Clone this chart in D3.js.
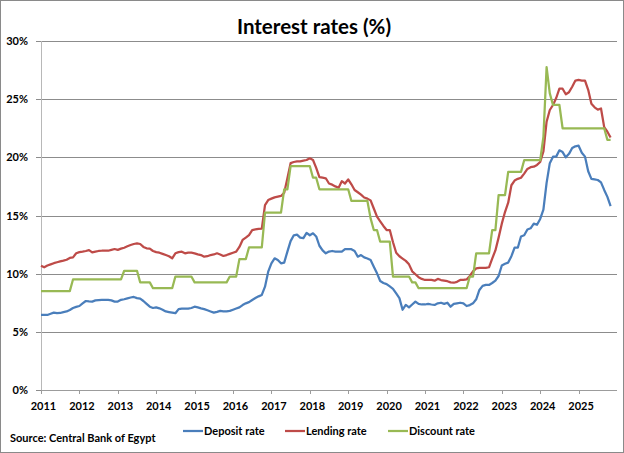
<!DOCTYPE html>
<html>
<head>
<meta charset="utf-8">
<script src="https://cdn.jsdelivr.net/npm/d3@7"></script>
<style>
body { margin: 0; background: #fff; }
text { font-family: Lato, "Liberation Sans", sans-serif; }
</style>
</head>
<body>
<svg id="chart" width="624" height="453"></svg>
<script>
// monthly data, Jan 2011 .. Nov 2025
var years = ["2011","2012","2013","2014","2015","2016","2017","2018","2019","2020","2021","2022","2023","2024","2025"];
var yTicks = [0, 5, 10, 15, 20, 25, 30];

var deposit = [
  6.45, 6.45, 6.45, 6.55, 6.65, 6.6, 6.62, 6.7, 6.75, 6.88, 7.05, 7.15,
  7.22, 7.45, 7.65, 7.62, 7.6, 7.7, 7.72, 7.74, 7.74, 7.74, 7.7, 7.6,
  7.6, 7.75, 7.8, 7.88, 7.95, 8.0, 7.9, 7.85, 7.65, 7.4, 7.16, 7.05,
  7.1, 7.02, 6.9, 6.75, 6.7, 6.65, 6.6, 6.95, 7.0, 7.0, 7.0, 7.05,
  7.16, 7.1, 7.02, 6.95, 6.85, 6.75, 6.65, 6.72, 6.8, 6.76, 6.76, 6.8,
  6.9, 7.0, 7.1, 7.3, 7.45, 7.55, 7.74, 7.9, 8.05, 8.17, 8.88, 10.17,
  10.89, 11.32, 11.17, 10.89, 10.95, 11.9, 12.8, 13.3, 13.35, 13.1, 13.05, 13.5,
  13.3, 13.47, 13.2, 12.4, 12.0, 11.75, 11.9, 11.95, 11.9, 11.9, 11.9, 12.12,
  12.12, 12.1, 11.95, 11.46, 11.6, 11.4, 11.3, 11.17, 10.6, 10.03, 9.37, 9.2,
  9.1, 8.9, 8.7, 8.3, 7.9, 6.9, 7.31, 7.1, 7.35, 7.6, 7.4, 7.35,
  7.35, 7.4, 7.35, 7.31, 7.45, 7.5, 7.4, 7.5, 7.16, 7.4, 7.45, 7.5,
  7.45, 7.22, 7.3, 7.45, 7.8, 8.6, 8.95, 9.03, 9.03, 9.2, 9.4, 9.8,
  10.7, 10.85, 10.95, 11.5, 12.23, 12.23, 13.2, 13.3, 13.8, 13.9, 14.3, 14.2,
  14.7, 15.5, 17.8, 19.5, 20.06, 20.06, 20.6, 20.45, 20.0, 20.3, 20.8, 20.95,
  21.0, 20.4, 20.06, 18.8, 18.15, 18.1, 18.05, 17.85, 17.2, 16.6, 15.8
];

var lending = [
  10.69, 10.55, 10.7, 10.8, 10.9, 10.98, 11.05, 11.12, 11.2, 11.35, 11.4, 11.75,
  11.85, 11.89, 11.95, 12.03, 11.83, 11.9, 11.95, 11.97, 11.97, 11.97, 12.05, 12.12,
  12.05, 12.15, 12.23, 12.35, 12.46, 12.55, 12.6, 12.55, 12.3, 12.18, 12.15, 11.95,
  11.85, 11.8, 11.7, 11.6, 11.5, 11.32, 11.75, 11.85, 11.89, 11.75, 11.8, 11.8,
  11.75, 11.66, 11.6, 11.46, 11.5, 11.6, 11.65, 11.75, 11.65, 11.52, 11.6, 11.7,
  11.8, 11.89, 12.3, 12.9, 13.1, 13.32, 13.75, 13.8, 13.85, 13.87, 15.9, 16.33,
  16.45, 16.56, 16.62, 16.68, 16.95, 18.2, 19.5, 19.6, 19.65, 19.66, 19.72, 19.77,
  19.92, 19.77, 19.1, 18.3, 18.25, 18.2, 17.75, 17.65, 17.5, 17.39, 17.95, 17.75,
  18.11, 17.68, 17.19, 17.0, 16.8, 16.55, 16.45, 16.3, 15.6, 14.9, 14.5, 14.1,
  13.75, 13.75, 12.7, 11.8, 11.5, 11.3, 11.1, 10.8, 10.2, 9.95, 9.7, 9.55,
  9.46, 9.46, 9.46, 9.4, 9.55, 9.45, 9.4, 9.35, 9.25, 9.22, 9.3, 9.46,
  9.46, 9.5, 9.8, 10.2, 10.46, 10.5, 10.5, 10.5, 10.55, 11.3, 12.0, 13.1,
  14.3, 15.3, 16.1, 17.6, 18.0, 18.15, 18.25, 18.6, 19.0, 19.15, 19.2, 19.35,
  19.6, 20.5, 23.06, 24.07, 24.5, 25.1, 25.9, 25.9, 25.42, 25.6, 26.07, 26.6,
  26.65, 26.6, 26.6, 25.8, 24.6, 24.3, 24.1, 24.2, 22.6, 22.2, 21.7
];

var discount = [
  8.5, 8.5, 8.5, 8.5, 8.5, 8.5, 8.5, 8.5, 8.5, 8.5, 9.5, 9.5,
  9.5, 9.5, 9.5, 9.5, 9.5, 9.5, 9.5, 9.5, 9.5, 9.5, 9.5, 9.5,
  9.5, 9.5, 10.25, 10.25, 10.25, 10.25, 10.25, 9.25, 9.25, 9.25, 9.25, 8.75,
  8.75, 8.75, 8.75, 8.75, 8.75, 8.75, 9.75, 9.75, 9.75, 9.75, 9.75, 9.75,
  9.25, 9.25, 9.25, 9.25, 9.25, 9.25, 9.25, 9.25, 9.25, 9.25, 9.25, 9.75,
  9.75, 9.75, 11.25, 11.25, 11.25, 12.25, 12.25, 12.25, 12.25, 12.25, 15.25, 15.25,
  15.25, 15.25, 15.25, 15.25, 17.25, 17.25, 19.25, 19.25, 19.25, 19.25, 19.25, 19.25,
  19.25, 18.25, 18.25, 17.25, 17.25, 17.25, 17.25, 17.25, 17.25, 17.25, 17.25, 17.25,
  17.25, 16.25, 16.25, 16.25, 16.25, 16.25, 16.25, 14.75, 13.75, 13.75, 12.75, 12.75,
  12.75, 12.75, 9.75, 9.75, 9.75, 9.75, 9.75, 9.75, 9.25, 9.25, 8.75, 8.75,
  8.75, 8.75, 8.75, 8.75, 8.75, 8.75, 8.75, 8.75, 8.75, 8.75, 8.75, 8.75,
  8.75, 8.75, 9.75, 9.75, 11.75, 11.75, 11.75, 11.75, 11.75, 13.75, 13.75, 16.75,
  16.75, 16.75, 18.75, 18.75, 18.75, 18.75, 18.75, 19.75, 19.75, 19.75, 19.75, 19.75,
  19.75, 21.75, 27.75, 25.5, 24.5, 24.5, 24.5, 22.5, 22.5, 22.5, 22.5, 22.5,
  22.5, 22.5, 22.5, 22.5, 22.5, 22.5, 22.5, 22.5, 22.5, 21.5, 21.5
];

var seriesNames = ["Deposit rate", "Lending rate", "Discount rate"];
var seriesColors = ["#4a7ebb", "#be4b48", "#98b954"];

var svg = d3.select("#chart");

// outer frame
svg.append("rect")
    .attr("x", 0.5).attr("y", 0.5)
    .attr("width", 623).attr("height", 452)
    .attr("fill", "#fff").attr("stroke", "#8a8a8a");

var x = d3.scaleLinear().domain([0, 180]).range([41, 617]);
var y = d3.scaleLinear().domain([0, 30]).range([390, 41]);

// gridlines
svg.append("g")
    .attr("transform", "translate(41,0)")
    .call(d3.axisLeft(y).tickValues(yTicks.slice(1)).tickSize(-576).tickFormat(""))
    .call(function(g){
        g.select(".domain").remove();
        g.selectAll("line").attr("stroke", "#8c8c8c").attr("shape-rendering", "crispEdges");
    });

// y axis
svg.append("g")
    .attr("transform", "translate(41,0)")
    .call(d3.axisLeft(y).tickValues(yTicks).tickSize(5).tickPadding(8).tickFormat(function(d){ return d + "%"; }))
    .call(function(g){
        g.select(".domain").attr("stroke", "#b8b8b8").attr("shape-rendering", "crispEdges");
        g.selectAll("line").attr("stroke", "#8c8c8c").attr("shape-rendering", "crispEdges");
        g.selectAll("text").attr("font-size", 11).attr("font-weight", "bold").attr("fill", "#000")
            .attr("font-family", "Lato, 'Liberation Sans', sans-serif");
    });

// x axis
svg.append("g")
    .attr("transform", "translate(0,390)")
    .call(d3.axisBottom(x).tickValues(years.map(function(d, i){ return i * 12; }))
        .tickSize(4).tickPadding(8).tickFormat(function(d, i){ return years[i]; }))
    .call(function(g){
        g.select(".domain").attr("stroke", "#9c9c9c").attr("shape-rendering", "crispEdges")
            .attr("d", "M41,0.5H617");
        g.selectAll("line").attr("stroke", "#9c9c9c").attr("shape-rendering", "crispEdges");
        g.selectAll("text").attr("font-size", 11).attr("font-weight", "bold").attr("fill", "#000")
            .attr("dx", 2).attr("font-family", "Lato, 'Liberation Sans', sans-serif");
    });

// lines
var line = d3.line()
    .x(function(d, i){ return x(i); })
    .y(function(d){ return y(d); });

[deposit, lending, discount].forEach(function(s, k){
    svg.append("path")
        .datum(s)
        .attr("fill", "none")
        .attr("stroke", seriesColors[k])
        .attr("stroke-width", 2.25)
        .attr("stroke-linejoin", "round")
        .attr("d", line);
});

// title
svg.append("text")
    .attr("x", 314).attr("y", 34)
    .attr("text-anchor", "middle")
    .attr("font-size", 20.5)
    .attr("font-weight", "bold")
    .text("Interest rates (%)");

// source
svg.append("text")
    .attr("x", 10).attr("y", 442)
    .attr("font-size", 11).attr("font-weight", "bold")
    .text("Source: Central Bank of Egypt");

// legend
var legendX = [183, 285, 388];
var legend = svg.append("g");
seriesNames.forEach(function(name, k){
    legend.append("line")
        .attr("x1", legendX[k]).attr("x2", legendX[k] + 20)
        .attr("y1", 431).attr("y2", 431)
        .attr("stroke", seriesColors[k]).attr("stroke-width", 2.25);
    legend.append("text")
        .attr("x", legendX[k] + 21).attr("y", 435)
        .attr("font-size", 11).attr("font-weight", "bold")
        .text(name);
});
</script>
</body>
</html>
